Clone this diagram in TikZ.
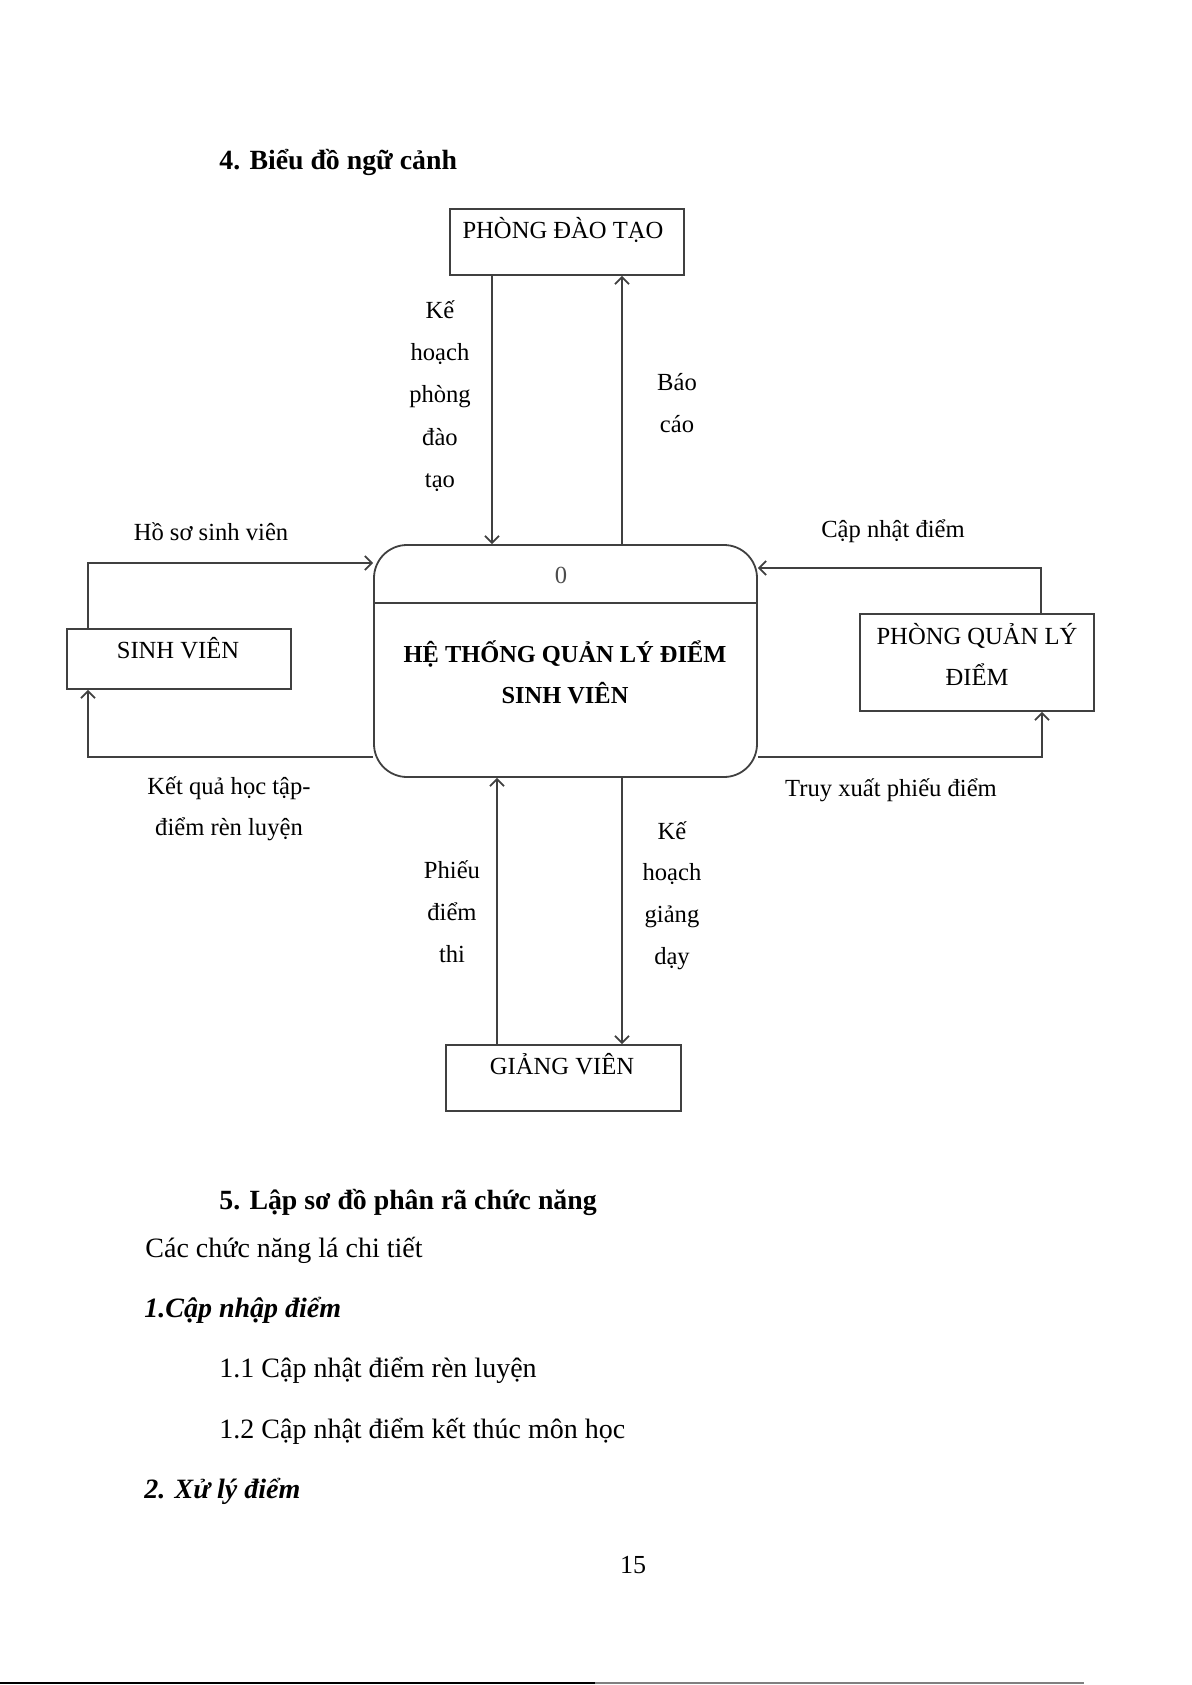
\documentclass[tikz,border=0pt]{standalone}
\usepackage{fontspec}
\setmainfont{Liberation Serif}
\usetikzlibrary{arrows.meta}
\tikzset{
 dfd line/.style={line width=.9pt,draw=black!75},
 dfd flow/.style={dfd line,-{Straight Barb[length=3.5pt,width=7pt]}},
 dfd entity/.style={rectangle,dfd line,inner sep=0pt,
                    minimum width=117pt,minimum height=33pt},
 dfd process/.style={rectangle,rounded corners=16.5pt,dfd line,inner sep=0pt,
                     minimum width=191.5pt,minimum height=116pt},
 dfd text/.style={inner sep=0pt,anchor=base,font=\fontsize{12.3}{14}\selectfont},
 dfd title/.style={dfd text,font=\fontsize{12.2}{14}\selectfont\bfseries},
 doc text/.style={inner sep=0pt,anchor=base west,font=\fontsize{14}{16}\selectfont},
 doc head/.style={doc text,font=\fontsize{13.9}{16}\selectfont\bfseries},
 doc item/.style={doc text,font=\fontsize{14}{16}\selectfont\bfseries\itshape}
}
\begin{document}
\begin{tikzpicture}[x=.5pt,y=-.5pt]
 \useasboundingbox (0,0) rectangle (1191,1685);
 \node[doc head] (h4) at (219,170) {4. Biểu đồ ngữ cảnh};
 % external entities
 \node[dfd entity] (pdt) at (567,242) {};
 \node[dfd text] (pdt-t) at (563,239) {PHÒNG ĐÀO TẠO};
 \node[dfd entity,minimum width=112pt,minimum height=30pt] (sv) at (179,659) {};
 \node[dfd text] (sv-t) at (178,658) {SINH VIÊN};
 \node[dfd entity,minimum height=48.5pt] (pql) at (977,662.5) {};
 \node[dfd text] (pql-t1) at (977,644) {PHÒNG QUẢN LÝ};
 \node[dfd text] (pql-t2) at (977,685) {ĐIỂM};
 \node[dfd entity,minimum width=117.5pt] (gv) at (563.5,1078) {};
 \node[dfd text] (gv-t) at (562,1074) {GIẢNG VIÊN};
 % process
 \node[dfd process] (ht) at (565.5,661) {};
 \draw[dfd line] (ht.west |- 0,603) -- (ht.east |- 0,603);
 \node[dfd text,text=black!70] (ht-n) at (561,583) {0};
 \node[dfd title] (ht-t1) at (565,662) {HỆ THỐNG QUẢN LÝ ĐIỂM};
 \node[dfd title] (ht-t2) at (565,703) {SINH VIÊN};
 % flows
 \draw[dfd flow] (pdt.south -| 492,0) -- (ht.north -| 492,0);
 \draw[dfd flow] (ht.north -| 622,0) -- (pdt.south -| 622,0);
 \draw[dfd flow] (gv.north -| 497,0) -- (ht.south -| 497,0);
 \draw[dfd flow] (ht.south -| 622,0) -- (gv.north -| 622,0);
 \coordinate (hs) at (88,563);
 \coordinate (kq) at (88,757);
 \coordinate (cn) at (1041,568);
 \coordinate (tx) at (1042,757);
 \draw[dfd flow] (sv.north -| hs) |- (ht.west |- hs);
 \draw[dfd flow] (ht.west |- kq) -| (sv.south -| kq);
 \draw[dfd flow] (pql.north -| cn) |- (ht.east |- cn);
 \draw[dfd flow] (ht.east |- tx) -| (pql.south -| tx);
 % flow labels
 \foreach \t [count=\i] in {Kế,hoạch,phòng,đào,tạo}
   \node[dfd text] (khp\i) at (440,{318.5+42.2*(\i-1)}) {\t};
 \foreach \t [count=\i] in {Báo,cáo}
   \node[dfd text] (bc\i) at (677,{390+42*(\i-1)}) {\t};
 \foreach \t [count=\i] in {Phiếu,điểm,thi}
   \node[dfd text] (pd\i) at (452,{878+42*(\i-1)}) {\t};
 \foreach \t [count=\i] in {Kế,hoạch,giảng,dạy}
   \node[dfd text] (khg\i) at (672,{839+41.7*(\i-1)}) {\t};
 \node[dfd text] (hssv) at (211,540) {Hồ sơ sinh viên};
 \node[dfd text] (kq1) at (229,794) {Kết quả học tập-};
 \node[dfd text] (kq2) at (229,835) {điểm rèn luyện};
 \node[dfd text] (cnd) at (893,537) {Cập nhật điểm};
 \node[dfd text] (txpd) at (891,796) {Truy xuất phiếu điểm};
 % text below
 \node[doc head] (h5) at (219,1209) {5. Lập sơ đồ phân rã chức năng};
 \node[doc text] (ct) at (145,1257) {Các chức năng lá chi tiết};
 \node[doc item] (m1) at (144,1317) {1.Cập nhập điểm};
 \node[doc text] (m11) at (219,1377) {1.1 Cập nhật điểm rèn luyện};
 \node[doc text] (m12) at (219,1438) {1.2 Cập nhật điểm kết thúc môn học};
 \node[doc item] (m2) at (144,1498) {2. Xử lý điểm};
 \node[doc text,anchor=base,font=\fontsize{13}{15}\selectfont] (pg) at (633,1573) {15};
 \draw[line width=1pt] (0,1683) -- (595,1683);
 \draw[line width=1pt,black!50] (595,1683) -- (1084,1683);
\end{tikzpicture}
\end{document}
